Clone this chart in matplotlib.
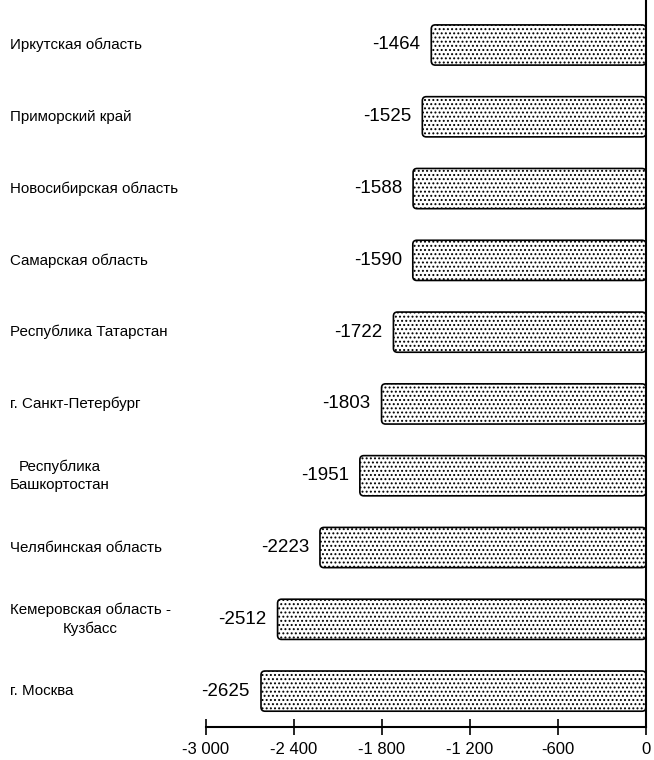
import matplotlib
matplotlib.use("Agg")
import matplotlib.pyplot as plt
from matplotlib.patches import FancyBboxPatch
from matplotlib.ticker import FixedLocator
import matplotlib.transforms as mtransforms

plt.rcParams['font.family'] = ['Liberation Sans', 'DejaVu Sans']
plt.rcParams['hatch.linewidth'] = 0.9

regions = ["Иркутская область", "Приморский край", "Новосибирская область",
           "Самарская область", "Республика Татарстан", "г. Санкт-Петербург",
           "Республика\nБашкортостан", "Челябинская область",
           "Кемеровская область -\nКузбасс", "г. Москва"]
values = [-1464, -1525, -1588, -1590, -1722, -1803, -1951, -2223, -2512, -2625]
tick_values = [-3000, -2400, -1800, -1200, -600, 0]
tick_labels = ["-3 000", "-2 400", "-1 800", "-1 200", "-600", "0"]

fig = plt.figure(figsize=(6.54, 7.6), dpi=100)
ax = fig.add_axes([206/654, 1-727/760, 440/654, 727/760])

n = len(regions)
ypos = [n - 1 - i for i in range(n)]
bars = ax.barh(ypos, values, height=0.56, color='none', edgecolor='none')

ax.set_xlim(-3000, 0)
top_extra = 45 / 71.8
ax.set_ylim(-0.5, n - 1 + top_extra)

xunits_per_px = 3000 / 440
yunits_per_px = (n - 1 + 0.5 + top_extra) / 727
aspect = yunits_per_px / xunits_per_px
for b in bars:
    x0, y0, w, h = b.get_x(), b.get_y(), b.get_width(), b.get_height()
    if w < 0:
        x0, w = x0 + w, -w
    p = FancyBboxPatch((x0, y0), w, h,
                       boxstyle="round,pad=0,rounding_size=%f" % (4 * xunits_per_px),
                       mutation_aspect=aspect,
                       facecolor='white', edgecolor='black', hatch='....',
                       linewidth=1.2, zorder=2)
    ax.add_patch(p)
    b.set_visible(False)

for y, v in zip(ypos, values):
    ax.text(v - 11 * xunits_per_px, y, str(v), ha='right', va='center',
            fontsize=13.5, color='black')

trans = mtransforms.blended_transform_factory(fig.transFigure, ax.transData)
for y, lab in zip(ypos, regions):
    ax.text(10/654, y, lab, transform=trans, ha='left', va='center',
            multialignment='center', fontsize=10.9, color='black',
            linespacing=1.35)

for s in ['top', 'left']:
    ax.spines[s].set_visible(False)
ax.spines['right'].set_linewidth(1.5)
ax.spines['right'].set_zorder(3)
ax.spines['bottom'].set_linewidth(1.5)
ax.set_yticks([])
ax.xaxis.set_major_locator(FixedLocator(tick_values))
ax.set_xticklabels(tick_labels)
ax.tick_params(axis='x', direction='inout', length=12, width=1.2,
               labelsize=12, pad=5)

fig.savefig("out.png", dpi=100)
